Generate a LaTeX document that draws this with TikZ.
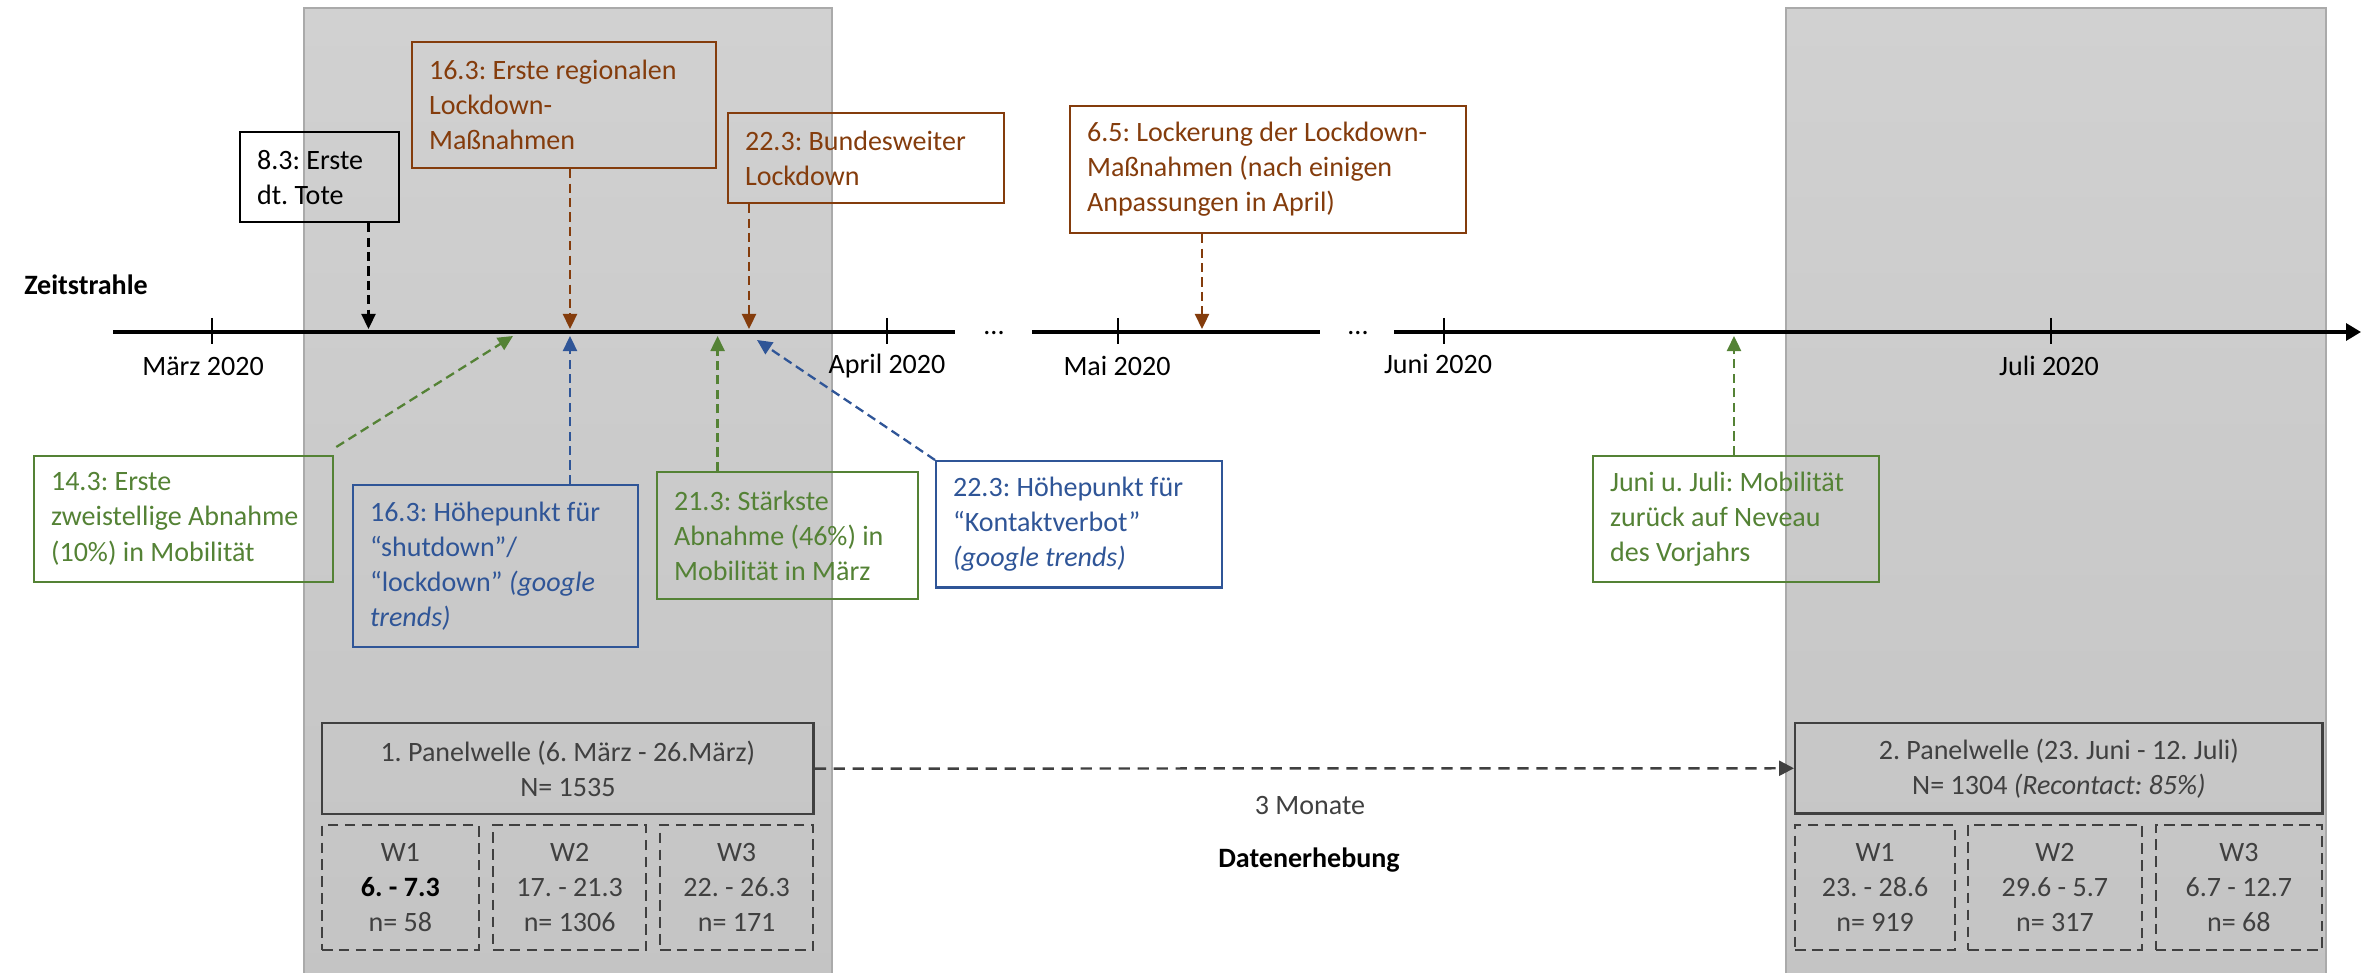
\documentclass[tikz,border=0pt]{standalone}
\usepackage{fontspec}
\setmainfont{Carlito}
\usetikzlibrary{arrows.meta}
\definecolor{brn}{RGB}{132,60,12}
\definecolor{blu}{RGB}{47,85,151}
\definecolor{grn}{RGB}{84,130,53}
\definecolor{dgray}{RGB}{64,64,64}
\definecolor{bandtop}{RGB}{209,209,209}
\definecolor{bandbot}{RGB}{196,196,196}
\definecolor{bandedge}{RGB}{170,170,170}
\begin{document}
\begin{tikzpicture}[x=0.01cm,y=-0.01cm,
  font=\fontsize{7.97}{9.96}\selectfont\frenchspacing,
  evbox/.style={draw, line width=0.6pt, anchor=north west, inner xsep=0.17cm, inner ysep=0pt, align=flush left},
  panelbox/.style={draw=dgray, line width=0.7pt, anchor=north west, inner sep=0pt, align=center, text=dgray},
  wbox/.style={draw=dgray, line width=0.6pt, dash pattern=on 3pt off 1.8pt, anchor=north west, inner sep=0pt, align=center, text=dgray, minimum height=1.25cm},
  tl/.style={line width=0.95pt, black},
  tick/.style={line width=0.4pt, black},
  evarrow/.style={line width=0.65pt, dash pattern=on 2.6pt off 1.5pt, -{Triangle[length=0.15cm,width=0.14cm]}},
  monthlbl/.style={inner sep=0pt, anchor=center}
]
\useasboundingbox (0,0) rectangle (2369,973);

% gray bands
\draw[bandedge, line width=0.5pt, top color=bandtop, bottom color=bandbot] (304,8) rectangle (832,990);
\draw[bandedge, line width=0.5pt, top color=bandtop, bottom color=bandbot] (1786,8) rectangle (2326,990);

% timeline
\coordinate (L0) at (113,332);
\coordinate (L1) at (955,332);
\coordinate (L2) at (1032,332);
\coordinate (L3) at (1320,332);
\coordinate (L4) at (1394,332);
\coordinate (L5) at (2361,332);
\draw[tl] (L0) -- (L1);
\draw[tl] (L2) -- (L3);
\draw[tl, -{Triangle[length=0.15cm,width=0.17cm]}] (L4) -- (L5);
\node[anchor=base, inner sep=0pt] (dots1) at (994,334) {...};
\node[anchor=base, inner sep=0pt] (dots2) at (1358,334) {...};

\draw[tick] (212,318) -- (212,344);
\draw[tick] (887,318) -- (887,344);
\draw[tick] (1118,318) -- (1118,344);
\draw[tick] (1444,318) -- (1444,344);
\draw[tick] (2051,318) -- (2051,344);

\node[monthlbl] (mar) at (203,366) {März 2020};
\node[monthlbl] (apr) at (887,366) {April 2020};
\node[monthlbl] (mai) at (1117,366) {Mai 2020};
\node[monthlbl] (jun) at (1438,364) {Juni 2020};
\node[monthlbl] (jul) at (2049,366) {Juli 2020};

\node[monthlbl, font=\fontsize{7.97}{9.96}\selectfont\bfseries] (zs) at (86,285) {Zeitstrahle};

% upper event boxes
\node[evbox, draw=black, text=black, minimum width=1.59cm, minimum height=0.90cm, text width=1.25cm] (e83) at (239,131) {8.3: Erste\\dt. Tote};
\node[evbox, draw=brn, text=brn, minimum width=3.04cm, minimum height=1.26cm, text width=2.70cm] (e163) at (411,41) {16.3: Erste regionalen\\Lockdown-\\Maßnahmen};
\node[evbox, draw=brn, text=brn, minimum width=2.76cm, minimum height=0.90cm, text width=2.42cm] (e223) at (727,112) {22.3: Bundesweiter\\Lockdown};
\node[evbox, draw=brn, text=brn, minimum width=3.96cm, minimum height=1.27cm, text width=3.62cm] (e65) at (1069,105) {6.5: Lockerung der Lockdown-\\Maßnahmen (nach einigen\\Anpassungen in April)};

% lower event boxes
\node[evbox, draw=grn, text=grn, minimum width=2.99cm, minimum height=1.255cm, text width=2.65cm] (g143) at (33,455) {14.3: Erste\\zweistellige Abnahme\\(10\%) in Mobilität};
\node[evbox, draw=blu, text=blu, minimum width=2.85cm, minimum height=1.62cm, text width=2.51cm] (b163) at (352,484) {16.3: Höhepunkt für\\“shutdown”/\\“lockdown” \textit{(google}\\\textit{trends)}};
\node[evbox, draw=grn, text=grn, minimum width=2.61cm, minimum height=1.27cm, text width=2.27cm] (g213) at (656,471) {21.3: Stärkste\\Abnahme (46\%) in\\Mobilität in März};
\node[evbox, draw=blu, text=blu, minimum width=2.86cm, minimum height=1.264cm, text width=2.52cm] (b223) at (935,460) {22.3: Höhepunkt für\\“Kontaktverbot”\\\textit{(google trends)}};
\node[evbox, draw=grn, text=grn, minimum width=2.86cm, minimum height=1.255cm, text width=2.52cm] (gjj) at (1592,455) {Juni u. Juli: Mobilität\\zurück auf Neveau\\des Vorjahrs};

% timeline targets
\coordinate (t83) at (368.5,329);
\coordinate (t163) at (570,329);
\coordinate (t223) at (749,329);
\coordinate (t65) at (1202,329);
\coordinate (u143) at (513,336);
\coordinate (u163) at (570,336);
\coordinate (u213) at (717.6,336);
\coordinate (u223) at (757,340);
\coordinate (ujj) at (1734,336);

\draw[evarrow, black] (e83.south -| t83) -- (t83);
\draw[evarrow, brn] (e163.south -| t163) -- (t163);
\draw[evarrow, brn] (e223.south -| t223) -- (t223);
\draw[evarrow, brn] (e65.south -| t65) -- (t65);
\draw[evarrow, grn] ([shift={(2,-8)}]g143.north east) -- (u143);
\draw[evarrow, blu] (b163.north -| u163) -- (u163);
\draw[evarrow, grn] (g213.north -| u213) -- (u213);
\draw[evarrow, blu] (b223.north west) -- (u223);
\draw[evarrow, grn] (gjj.north -| ujj) -- (ujj);

% panel waves
\node[panelbox, minimum width=4.91cm, minimum height=0.907cm] (p1) at (321,722) {1. Panelwelle (6. März - 26.März)\\N= 1535};
\node[wbox, minimum width=1.565cm] (p1w1) at (321,824) {W1\\\textcolor{black}{\bfseries 6. - 7.3}\\n= 58};
\node[wbox, minimum width=1.532cm] (p1w2) at (492,824) {W2\\17. - 21.3\\n= 1306};
\node[wbox, minimum width=1.53cm] (p1w3) at (659,824) {W3\\22. - 26.3\\n= 171};

\node[panelbox, minimum width=5.27cm, minimum height=0.90cm] (p2) at (1794,722) {2. Panelwelle (23. Juni - 12. Juli)\\N= 1304 \textit{(Recontact: 85\%)}};
\node[wbox, minimum width=1.60cm] (p2w1) at (1794,824) {W1\\23. - 28.6\\n= 919};
\node[wbox, minimum width=1.736cm] (p2w2) at (1967,824) {W2\\29.6 - 5.7\\n= 317};
\node[wbox, minimum width=1.665cm] (p2w3) at (2154.5,824) {W3\\6.7 - 12.7\\n= 68};

\draw[dgray, line width=0.7pt, dash pattern=on 3.2pt off 2.2pt, -{Triangle[length=0.15cm,width=0.15cm]}] (p1.east) -- (p2.west);

\node[monthlbl, text=dgray] (mon) at (1310,806) {3 Monate};
\node[monthlbl, font=\fontsize{7.97}{9.96}\selectfont\bfseries] (de) at (1309,860) {Datenerhebung};
\end{tikzpicture}
\end{document}
